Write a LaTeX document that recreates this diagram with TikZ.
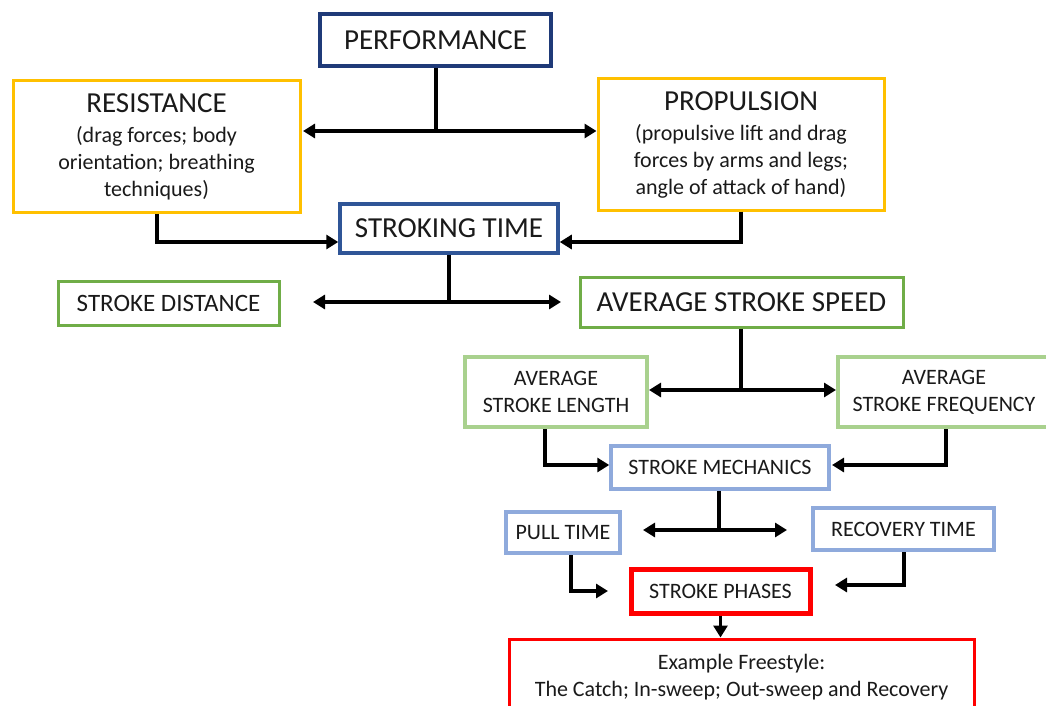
\documentclass[tikz,border=0pt]{standalone}
\usepackage{fontspec}
\setmainfont{Carlito}
\usetikzlibrary{arrows.meta}
\definecolor{navy}{HTML}{1F3A78}
\definecolor{gold}{HTML}{FFC000}
\definecolor{midblue}{HTML}{2F5597}
\definecolor{grn}{HTML}{70AD47}
\definecolor{lgrn}{HTML}{A9D18E}
\definecolor{lblue}{HTML}{8FAADC}
\definecolor{txt}{HTML}{1A1A1A}
\tikzset{
  box/.style={draw, rectangle, align=center, inner sep=0pt, text=txt, fill=white},
  big/.style={font=\fontsize{29}{32}\selectfont},
  med/.style={font=\fontsize{22}{27}\selectfont},
  arr/.style={line width=3.5pt, -{Triangle[length=12pt,width=14pt]}},
  darr/.style={line width=3.5pt, {Triangle[length=12pt,width=14pt]}-{Triangle[length=12pt,width=14pt]}},
  ln/.style={line width=3.5pt},
}
\newcommand{\titlefont}{\fontsize{29}{32}\selectfont}
\newcommand{\subfont}{\fontsize{22}{27}\selectfont}
\begin{document}
\begin{tikzpicture}[x=1pt,y=-1pt]
\useasboundingbox (0,0) rectangle (1046,706);
% nodes
\node[box, big, draw=navy, line width=3.5pt, minimum width=231pt, minimum height=52pt] (perf) at (435.5,40) {PERFORMANCE};
\node[box, draw=gold, line width=3pt, minimum width=287pt, minimum height=131pt, font=\subfont] (res) at (156.5,146.5) {\titlefont RESISTANCE\\[3pt]\subfont (drag forces; body\\orientation; breathing\\techniques)};
\node[box, draw=gold, line width=3pt, minimum width=286pt, minimum height=131pt, font=\subfont] (prop) at (741,144.5) {\titlefont PROPULSION\\[3pt]\subfont (propulsive lift and drag\\forces by arms and legs;\\angle of attack of hand)};
\node[box, big, draw=midblue, line width=3.5pt, minimum width=218pt, minimum height=49pt] (st) at (449,228.5) {STROKING TIME};
\node[box, draw=grn, line width=3pt, minimum width=221pt, minimum height=44pt, font=\fontsize{25}{28}\selectfont] (sd) at (168.5,303) {STROKE DISTANCE};
\node[box, big, draw=grn, line width=3pt, minimum width=323pt, minimum height=50pt] (ass) at (741.5,302) {AVERAGE STROKE SPEED};
\node[box, med, draw=lgrn, line width=4pt, minimum width=182pt, minimum height=70pt] (asl) at (556,392) {AVERAGE\\STROKE LENGTH};
\node[box, med, draw=lgrn, line width=4pt, minimum width=222pt, minimum height=70pt] (asf) at (949,392) {\hspace*{-10pt}AVERAGE\\\hspace*{-10pt}STROKE FREQUENCY};
\node[box, med, draw=lblue, line width=3.5pt, minimum width=218pt, minimum height=43pt] (sm) at (720,467.5) {STROKE MECHANICS};
\node[box, med, draw=lblue, line width=4pt, minimum width=114pt, minimum height=41pt] (pull) at (563,532.5) {PULL TIME};
\node[box, med, draw=lblue, line width=4pt, minimum width=181pt, minimum height=42pt] (rec) at (903.5,529) {RECOVERY TIME};
\node[box, med, draw=red, line width=5pt, minimum width=179pt, minimum height=44pt] (sp) at (720.5,591) {STROKE PHASES};
\node[box, med, draw=red, line width=3pt, minimum width=465pt, minimum height=76pt] (ex) at (741.5,677) {Example Freestyle:\\The Catch; In-sweep; Out-sweep and Recovery};
% junction coordinates
\coordinate (j1) at (436,131);
\coordinate (j2) at (449,302);
\coordinate (j3) at (741,390);
\coordinate (j4) at (719,530);
% connectors
\draw[ln] (perf.south -| j1) -- (j1);
\draw[darr] (res.east |- j1) ++(1.5,0) coordinate (r1) -- (prop.west |- j1) coordinate (p1);
\draw[arr] (res.south -| 157,0) |- (st.west |- 0,242);
\draw[arr] (prop.south -| 741,0) |- (st.east |- 0,242);
\draw[ln] (st.south -| j2) -- (j2);
\draw[darr] (313,302) coordinate (sdA) -- (561,302) coordinate (assA);
\draw[ln] (ass.south -| j3) -- (j3);
\draw[darr] (asl.east |- j3) -- (asf.west |- j3);
\draw[arr] (asl.south -| 545,0) |- (sm.west |- 0,465);
\draw[arr] (asf.south -| 946,0) |- (832,465);
\draw[ln] (sm.south -| j4) -- (j4);
\draw[darr] (643,530) -- (787,530);
\draw[arr] (pull.south -| 571,0) |- (608,591);
\draw[arr] (rec.south -| 904,0) |- (835,585);
\draw[arr] (sp.south) -- (ex.north -| sp.south);
\end{tikzpicture}
\end{document}
